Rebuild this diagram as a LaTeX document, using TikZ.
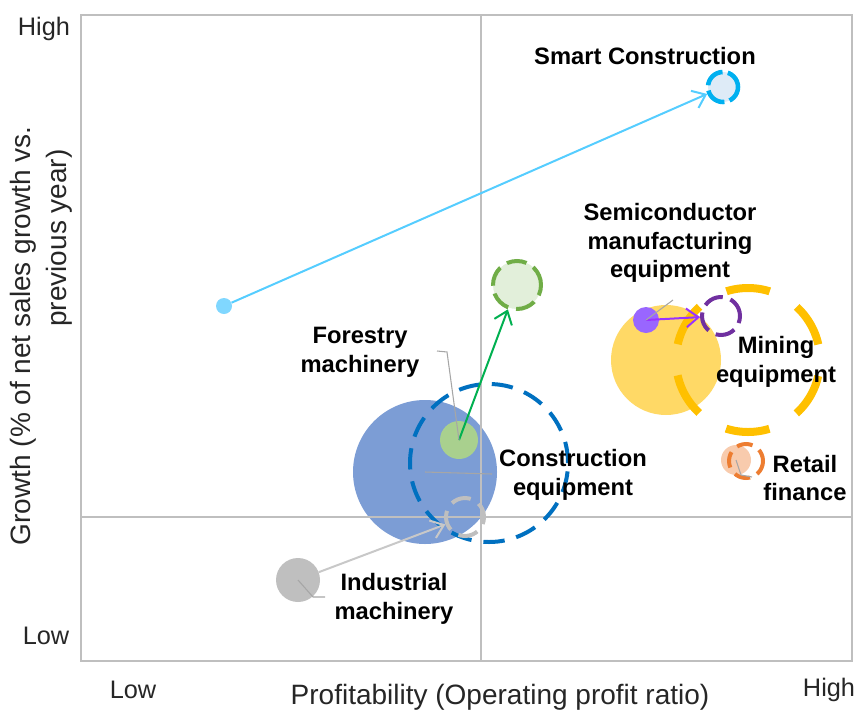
\documentclass[tikz,border=0pt]{standalone}
\usepackage{fontspec}
\setmainfont{Liberation Sans}
\usetikzlibrary{arrows.meta}
\definecolor{axtext}{RGB}{38,38,38}
\definecolor{framegray}{RGB}{191,191,191}
\definecolor{leadgray}{RGB}{166,166,166}
\definecolor{smartfill}{RGB}{222,235,247}
\definecolor{smartring}{RGB}{0,176,240}
\definecolor{lbdotc}{RGB}{128,215,255}
\definecolor{lbarrow}{RGB}{85,205,255}
\definecolor{greenfill}{RGB}{226,239,218}
\definecolor{greenring}{RGB}{112,173,71}
\definecolor{greenarrow}{RGB}{0,176,80}
\definecolor{forestfill}{RGB}{169,208,142}
\definecolor{bigblue}{RGB}{124,157,213}
\definecolor{bluering}{RGB}{0,112,192}
\definecolor{graybub}{RGB}{191,191,191}
\definecolor{grayarrow}{RGB}{200,200,200}
\definecolor{purpfill}{RGB}{153,102,255}
\definecolor{purpring}{RGB}{112,48,160}
\definecolor{purparrow}{RGB}{153,51,255}
\definecolor{yellfill}{RGB}{255,217,102}
\definecolor{yellring}{RGB}{255,192,0}
\definecolor{peach}{RGB}{248,203,173}
\definecolor{orangering}{RGB}{237,125,49}
\begin{document}
\begin{tikzpicture}[x=0.75pt,y=-0.75pt,
  bubble/.style={circle, inner sep=0pt, draw=none},
  ring/.style={circle, inner sep=0pt, fill=none},
  lbl/.style={font=\bfseries\fontsize{17.8}{21.5}\selectfont, align=center, text=black, inner sep=0pt},
  tick/.style={font=\fontsize{19}{23}\selectfont, text=axtext, inner sep=0pt},
  axtitle/.style={font=\fontsize{21}{25}\selectfont, text=axtext, inner sep=0pt},
  leader/.style={draw=leadgray, line width=0.8pt},
  arr/.style={line width=1.5pt, -{Straight Barb[length=9pt,width=14pt]}}
]
\useasboundingbox (0,0) rectangle (866,714);

% frame
\draw[framegray, line width=0.8pt] (81,15) rectangle (852,661);

% filled bubbles
\node[bubble, fill=yellfill, minimum size=82.5pt] (minefill) at (666,360) {};
\node[bubble, fill=bigblue, minimum size=108pt] (consfill) at (425,472) {};

% mid lines
\draw[framegray, line width=0.8pt] (481,15) -- (481,661);
\draw[framegray, line width=0.8pt] (81,517) -- (852,517);

% rings and small bubbles
\node[ring, draw=yellring, line width=6pt, dash pattern=on 33pt off 23.5pt, dash phase=44.75pt, minimum size=108pt] (minering) at (748,360) {};
\node[ring, draw=bluering, line width=3pt, dash pattern=on 16pt off 9pt, minimum size=118.5pt] (consring) at (489,463) {};
\node[bubble, fill=forestfill, minimum size=28.5pt] (forest) at (459,440) {};
\node[ring, draw=graybub, line width=3pt, dash pattern=on 15pt off 7pt, dash phase=4pt, minimum size=28.5pt] (indring) at (465,517) {};
\node[bubble, fill=graybub, minimum size=33pt] (indfill) at (298,580) {};
\node[ring, fill=greenfill, draw=greenring, line width=3pt, dash pattern=on 15pt off 6pt, minimum size=36pt] (forring) at (517,285) {};
\node[ring, fill=smartfill, draw=smartring, line width=3.4pt, dash pattern=on 16pt off 4pt, dash phase=2pt, minimum size=22.5pt] (smart) at (723,87) {};
\node[bubble, fill=lbdotc, minimum size=12pt] (lbdot) at (224,306) {};
\node[bubble, fill=purpfill, minimum size=19.5pt] (semfill) at (646,320) {};
\node[ring, draw=purpring, line width=3pt, dash pattern=on 15pt off 6pt, minimum size=28.5pt] (semring) at (721,316) {};
\node[bubble, fill=peach, minimum size=22.5pt] (retfill) at (736,460) {};
\node[ring, draw=orangering, line width=3pt, dash pattern=on 12pt off 6pt, dash phase=3pt, minimum size=25.5pt] (retring) at (746,461) {};

% arrows
\draw[arr, lbarrow] (lbdot) -- (smart);
\draw[arr, greenarrow] (forest.center) -- (forring);
\draw[arr, grayarrow] (indfill) -- (indring);
\draw[arr, purparrow] (semfill.center) -- (semring);

% leader lines
\coordinate (forL1) at (437,351);
\coordinate (forL2) at (447,352);
\coordinate (consL) at (492,474);
\coordinate (indL1) at (313,597);
\coordinate (indL2) at (325,597);
\coordinate (semL) at (673,300);
\coordinate (retL1) at (741,475);
\coordinate (retL2) at (752,477);
\draw[leader] (forL1) -- (forL2) -- (forest.center);
\draw[leader] (consfill.center) -- (consL);
\draw[leader] (indfill.center) -- (indL1) -- (indL2);
\draw[leader] (semfill.center) -- (semL);
\draw[leader] (retfill.center) -- (retL1) -- (retL2);

% labels
\node[lbl] (smartlbl) at (645,56) {Smart Construction};
\node[lbl] (semlbl) at (670,243) {Semiconductor\\manufacturing\\equipment};
\node[lbl] (forlbl) at (360,352) {Forestry\\machinery};
\node[lbl] (conslbl) at (573,475) {Construction\\equipment};
\node[lbl] (minelbl) at (776,362) {Mining\\equipment};
\node[lbl] (retlbl) at (805,478) {Retail\\finance};
\node[lbl] (indlbl) at (394,599) {Industrial\\machinery};

% axis labels
\node[tick] (yhigh) at (44,29) {High};
\node[tick] (ylow) at (46,636) {Low};
\node[tick] (xlow) at (133,690) {Low};
\node[tick] (xhigh) at (829,690) {High};
\node[axtitle] (xtitle) at (500,697) {Profitability (Operating profit ratio)};
\node[axtitle, rotate=90] (ytitle1) at (23,336) {Growth (\% of net sales growth vs.};
\node[axtitle, rotate=90] (ytitle2) at (59,238) {previous year)};
\end{tikzpicture}
\end{document}
